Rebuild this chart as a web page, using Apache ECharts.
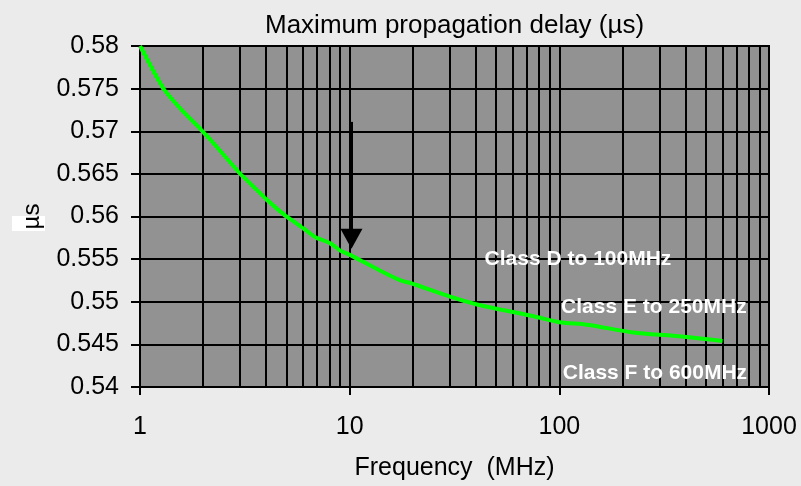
<!DOCTYPE html>
<html>
<head>
<meta charset="utf-8">
<script src="https://cdn.jsdelivr.net/npm/echarts@6/dist/echarts.min.js"></script>
<style>
  html, body { margin: 0; padding: 0; background: #ebebeb; }
  #chart { width: 801px; height: 486px; }
</style>
</head>
<body>
<div id="chart"></div>
<script>
// frequency (MHz) and max propagation delay (us)
var freq = [1, 1.29, 1.6, 2.0, 2.78, 3.0, 4.0, 4.8, 6.0, 6.8, 8.0, 9.0, 10, 14, 17.4, 19.4, 30, 40, 52, 75, 100, 135, 224, 348, 468, 600];
var delay = [0.5800, 0.5750, 0.5723, 0.5699, 0.5659, 0.5650, 0.5620, 0.5603, 0.5586, 0.5576, 0.5569, 0.5560, 0.5555, 0.5536, 0.5525, 0.5522, 0.5506, 0.5497, 0.5491, 0.5483, 0.5476, 0.5473, 0.5464, 0.5460, 0.5457, 0.5454];

// minor log gridlines
var minorLines = [2, 3, 4, 5, 6, 7, 8, 9, 20, 30, 40, 50, 60, 70, 80, 90, 200, 300, 400, 500, 600, 700, 800, 900];

// class notes: [freq, delay, text]
var notes = [
  [122.7, 0.5550, 'Class D to 100MHz'],
  [282.5, 0.5494, 'Class E to 250MHz'],
  [285.7, 0.5416, 'Class F to 600MHz']
];

// arrow at 10MHz
var arrowFrom = [10.2, 0.5711];
var arrowTo = [10.2, 0.5574];

var font = 'Liberation Sans, Arial, sans-serif';

var chart = echarts.init(document.getElementById('chart'));

var option = {
  backgroundColor: '#ebebeb',
  animation: false,
  title: {
    text: 'Maximum propagation delay (\u00b5s)',
    left: 260,
    top: 8,
    textStyle: { fontFamily: font, fontSize: 26, fontWeight: 'normal', color: '#000' }
  },
  grid: {
    left: 140, right: 32, top: 46, bottom: 97,
    show: true,
    backgroundColor: '#929292',
    borderColor: '#000',
    borderWidth: 2
  },
  graphic: [{
    type: 'rect',
    z: -10,
    shape: { x: 12, y: 216, width: 33, height: 15 },
    style: { fill: '#fff' }
  }],
  xAxis: {
    type: 'log',
    logBase: 10,
    min: 1,
    max: 1000,
    name: 'Frequency  (MHz)',
    nameLocation: 'middle',
    nameGap: 69,
    nameTextStyle: { fontFamily: font, fontSize: 25, color: '#000' },
    axisLine: { lineStyle: { color: '#000', width: 2 } },
    axisTick: { length: 8, lineStyle: { color: '#000', width: 2 } },
    axisLabel: {
      fontFamily: font, fontSize: 25, color: '#000', margin: 28,
      formatter: function (v) { return String(Math.round(v)); }
    },
    splitLine: { show: true, lineStyle: { color: '#000', width: 2 } }
  },
  yAxis: {
    type: 'value',
    min: 0.54,
    max: 0.58,
    interval: 0.005,
    name: '\u00b5s',
    nameLocation: 'middle',
    nameRotate: 90,
    nameGap: 96,
    nameTextStyle: { fontFamily: font, fontSize: 24, color: '#000' },
    axisLine: { show: true, lineStyle: { color: '#000', width: 2 } },
    axisTick: { show: true, length: 9, lineStyle: { color: '#000', width: 2 } },
    axisLabel: { fontFamily: font, fontSize: 25, color: '#000', margin: 21 },
    splitLine: { show: true, lineStyle: { color: '#000', width: 2 } }
  },
  series: [
    {
      type: 'line',
      data: [],
      z: 1,
      silent: true,
      markLine: {
        z: 1,
        silent: true,
        symbol: ['none', 'none'],
        label: { show: false },
        lineStyle: { color: '#000', width: 2, type: 'solid' },
        data: minorLines.map(function (v) { return { xAxis: v }; })
      }
    },
    {
      type: 'line',
      z: 3,
      data: freq.map(function (f, i) { return [f, delay[i]]; }),
      showSymbol: false,
      symbol: 'none',
      smooth: 0.3,
      lineStyle: { color: '#00ff00', width: 4 },
      markLine: {
        z: 6,
        silent: true,
        symbol: ['none', 'triangle'],
        symbolSize: [22, 20],
        label: { show: false },
        lineStyle: { color: '#000', width: 3, type: 'solid' },
        itemStyle: { color: '#000' },
        data: [[{ coord: arrowFrom }, { coord: arrowTo }]]
      },
      markPoint: {
        z: 6,
        silent: true,
        symbol: 'rect',
        symbolSize: 1,
        itemStyle: { color: 'rgba(0,0,0,0)' },
        label: {
          show: true,
          position: 'inside',
          fontFamily: font,
          fontSize: 21,
          fontWeight: 'bold',
          color: '#fff',
          formatter: function (p) { return p.name; }
        },
        data: notes.map(function (n) { return { coord: [n[0], n[1]], name: n[2] }; })
      }
    }
  ]
};

chart.setOption(option);
</script>
</body>
</html>
